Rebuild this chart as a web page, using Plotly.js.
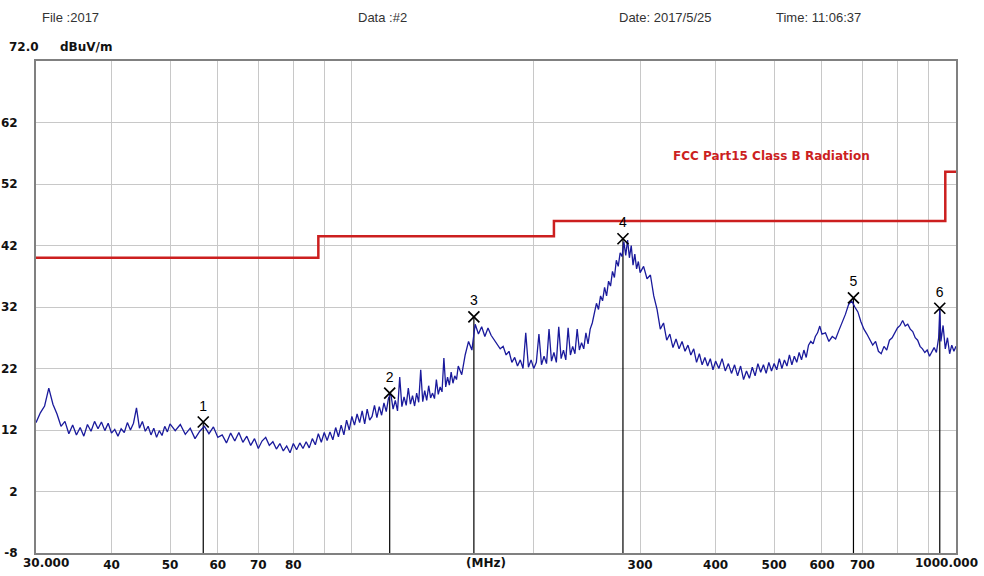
<!DOCTYPE html>
<html>
<head>
<meta charset="utf-8">
<script src="https://cdn.plot.ly/plotly-3.0.1.min.js"></script>
<style>
html,body{margin:0;padding:0;background:#fff;}
#chart{width:984px;height:576px;}
</style>
</head>
<body>
<div id="chart"></div>
<script>
var freqA = [30.0,30.5,31.0,31.5,32.0,32.5,33.0,33.5,34.0,34.5,35.0,35.5,36.0,36.5,37.0,37.5,38.0,38.5,39.0,39.5,40.0,40.5,41.0,41.5,42.0,42.5,43.0,43.5,44.0,44.5,45.0,45.5,46.0,46.5,47.0,47.5,48.0,48.5,49.0,49.5,50.0];
var levelA = [13.2,14.8,15.9,18.8,16.2,14.6,12.6,13.4,11.4,12.8,11.2,12.4,11.0,12.9,11.8,13.4,12.2,13.3,11.9,13.1,11.5,12.1,11.0,12.2,11.6,13.2,12.0,13.1,15.6,12.3,13.4,11.8,12.6,11.2,12.3,10.8,11.9,11.1,12.6,11.7,13.0];
var freqB = [51,52,53,54,55,56,57,58,59,60,61,62,63,64,65,66,67,68,69,70,71,72,73,74,75,76,77,78,79,80,81,82,83,84,85,86,87,88,89,90,91,92,93,94,95,96,97,98,99,100];
var levelB = [11.9,12.9,11.3,12.3,10.6,11.8,12.6,11.4,12.5,10.8,11.2,9.9,11.5,10.2,11.6,10.0,11.0,9.5,10.6,9.0,10.2,10.8,9.5,10.1,8.9,9.8,8.6,9.4,8.3,9.8,8.8,9.9,9.0,10.1,9.1,10.6,9.6,11.4,10.0,11.6,10.3,11.7,10.4,12.4,10.9,12.8,11.2,13.6,12.0,14.2];
var freqC = [101,102,103,104,105,106,107,108,109,110,111,112,113,114,115,116,117,118,119,120,121,122,123,124,125,126,127,128,129,130,131,132,133,134,135,136,137,138,139,140,141,142,143,144,145,146,147,148,149,150,152,154,156,158,160,162,164,166,168,170,172,174,176,178,180,182,184,186,188,190,192,194,196,198,200];
var levelC = [12.8,14.6,13.2,15.1,13.0,15.4,13.6,14.2,16.0,14.0,15.8,14.4,16.4,15.0,17.2,17.9,15.4,16.8,15.1,20.6,15.8,17.4,16.0,18.8,16.2,17.6,15.9,18.0,16.5,21.8,16.6,18.4,16.8,19.2,17.2,18.0,17.1,20.2,17.8,19.0,18.2,23.7,19.0,20.6,19.3,21.4,19.6,20.8,20.2,22.4,21.0,24.2,26.4,25.0,29.2,27.6,28.8,27.2,28.6,27.4,26.6,26.0,25.2,25.6,24.2,24.8,23.0,23.8,22.4,23.4,22.0,27.8,22.2,23.4,22.0];
var freqD = [202,204,206,208,210,212,214,216,218,220,222,224,226,228,230,232,234,236,238,240,242,244,246,248,250,252,254,256,258,260,262,264,266,268,270,272,274,276,278,280,282,284,286,288,290,292,294,296,298,300,304,308,312,316,320,324,328,332,336,340,344,348,352,356,360,364,368,372,376,380,384,388,392,396,400];
var levelD = [23.0,27.6,22.6,24.0,22.8,28.4,23.2,24.6,23.0,28.8,23.6,25.0,23.4,28.6,24.2,25.6,24.4,28.4,25.0,26.2,25.2,27.8,26.0,28.4,29.4,30.8,32.6,31.6,33.8,33.0,35.2,33.8,36.2,35.4,37.8,36.8,39.6,38.6,40.8,40.2,42.6,40.4,42.9,40.0,42.0,38.8,40.6,38.2,39.4,37.6,38.6,36.6,37.2,33.8,31.6,28.4,29.4,26.6,27.6,25.4,26.8,25.2,26.4,24.8,25.8,24.2,25.2,23.0,24.4,22.6,23.8,22.4,23.6,21.8,23.2];
var freqE = [405,410,415,420,425,430,435,440,445,450,455,460,465,470,475,480,485,490,495,500,505,510,515,520,525,530,535,540,545,550,555,560,565,570,575,580,585,590,595,600,608,616,624,632,640,648,656,664,672,680,688,696,704,712,720,728,736,744,752,760,768,776,784,792,800,808,816,824,832,840,848,856,864,872,880,888,896,904,912,920,928,936,940,944,952,960,968,976,984,992,1000];
var levelE = [22.0,23.6,21.6,22.8,21.2,22.6,20.8,22.4,20.2,21.6,20.4,22.2,20.8,22.8,21.4,22.6,21.2,23.0,21.6,22.8,21.8,23.6,22.0,23.4,22.4,24.2,22.6,24.0,23.0,24.6,23.4,25.0,23.8,25.8,26.4,26.0,27.2,27.8,28.9,27.6,27.8,26.4,27.2,26.8,28.2,29.4,30.8,32.4,33.0,32.0,31.2,29.6,28.4,27.6,26.8,25.8,26.4,24.8,24.4,25.6,25.0,26.6,27.0,27.8,28.6,29.0,29.8,28.9,29.2,28.4,28.0,27.0,26.6,25.6,25.2,24.6,25.0,24.0,24.8,25.4,24.6,27.0,31.6,26.4,29.0,25.2,27.0,24.4,25.8,24.8,25.6];

// FCC Part15 Class B limit (step starts)
var limitFreq = [30, 88, 216, 960, 1000];
var limitLevel = [40, 43.5, 46, 54, 54];

// Peak markers
var markerNo = ["1","2","3","4","5","6"];
var markerFreq = [56.75, 115.5, 159.2, 281.0, 676.5, 940.0];
var markerLevel = [13.3, 18.0, 30.4, 43.1, 33.5, 31.8];

// Axis ticks
var yTicks = [-8, 2, 12, 22, 32, 42, 52, 62];
var yTickText = ["-8","2","12","22","32","42","52","62"];
var xTicks = [30,40,50,60,70,80,90,100,200,300,400,500,600,700,800,900,1000];
var xTickText = ["","40","50","60","70","80","","","","300","400","500","600","700","","",""];
var xStartLabel = "30.000", xEndLabel = "1000.000", xUnit = "(MHz)";

var freq = freqA.concat(freqB, freqC, freqD, freqE);
var level = levelA.concat(levelB, levelC, levelD, levelE);

var yMin = -8, yMax = 72;

var vx = [], vy = [];
for (var i = 0; i < markerFreq.length; i++) {
  vx.push(markerFreq[i], markerFreq[i], null);
  vy.push(markerLevel[i], yMin, null);
}

var traces = [
  {x: limitFreq, y: limitLevel, type: 'scatter', mode: 'lines',
   line: {color: '#cc1f1f', width: 2.5, shape: 'hv'}, hoverinfo: 'skip'},
  {x: vx, y: vy, type: 'scatter', mode: 'lines',
   line: {color: '#000000', width: 1.2}, hoverinfo: 'skip'},
  {x: freq, y: level, type: 'scatter', mode: 'lines',
   line: {color: '#1a1a9c', width: 1.3}},
  {x: markerFreq, y: markerLevel, type: 'scatter', mode: 'markers+text',
   text: markerNo, textposition: 'top center',
   textfont: {family: 'Liberation Sans, Arial, sans-serif', size: 14, color: '#000'},
   marker: {symbol: 'x-thin-open', size: 11, line: {color: '#000', width: 1.7}, color: '#000'}}
];

var hdrFont = {family: 'Liberation Sans, Arial, sans-serif', size: 13, color: '#333'};
var boldFont = {family: 'DejaVu Sans, sans-serif', size: 12, color: '#111', weight: 'bold'};

function note(text, px, py, font) {
  return {text: text, xref: 'paper', yref: 'paper',
          x: (px - 36) / 920, y: (553 - py) / 492,
          xanchor: 'center', yanchor: 'middle', showarrow: false, font: font};
}

var layout = {
  width: 984, height: 576,
  margin: {l: 36, r: 28, t: 61, b: 23, pad: 0},
  paper_bgcolor: '#ffffff', plot_bgcolor: '#ffffff',
  showlegend: false,
  font: {family: 'DejaVu Sans, sans-serif'},
  xaxis: {
    type: 'log', range: [Math.log10(30), Math.log10(1000)],
    tickmode: 'array', tickvals: xTicks, ticktext: xTickText,
    ticks: '', showgrid: true, gridcolor: '#c8c8c8', gridwidth: 1,
    showline: true, linecolor: '#808080', linewidth: 2, mirror: true,
    tickfont: boldFont, ticklabelstandoff: 0, ticklabeloverflow: 'allow', zeroline: false
  },
  yaxis: {
    range: [yMin, yMax], tickmode: 'array', tickvals: yTicks, ticktext: yTickText,
    ticks: '', showgrid: true, gridcolor: '#c8c8c8', gridwidth: 1,
    showline: true, linecolor: '#808080', linewidth: 2, mirror: true,
    tickfont: boldFont, ticklabelstandoff: 14, zeroline: false
  },
  annotations: [
    note('File :2017', 70, 17, hdrFont),
    note('Data :#2', 382, 17, hdrFont),
    note('Date: 2017/5/25', 665, 17, hdrFont),
    note('Time: 11:06:37', 818, 17, hdrFont),
    note('72.0', 24, 47, boldFont),
    note('dBuV/m', 86, 47, boldFont),
    note(xStartLabel, 46, 563, boldFont),
    note(xEndLabel, 946, 563, boldFont),
    note(xUnit, 486, 563, boldFont),
    note('FCC Part15 Class B Radiation', 771, 156,
         {family: 'DejaVu Sans, sans-serif', size: 12, color: '#cc1f1f', weight: 'bold'})
  ]
};

Plotly.newPlot('chart', traces, layout, {staticPlot: true, displayModeBar: false});
</script>
</body>
</html>
